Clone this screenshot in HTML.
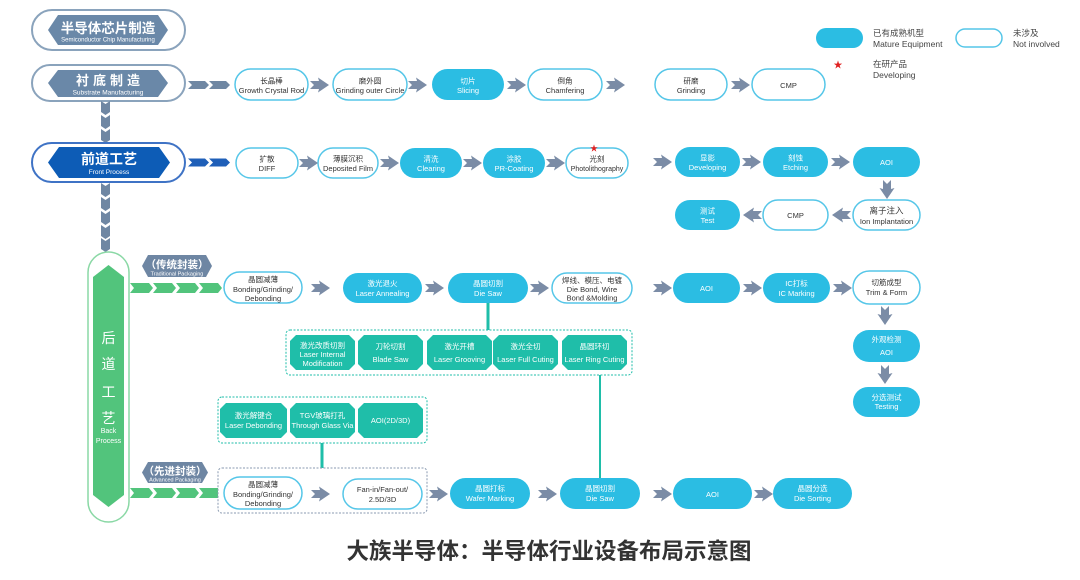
<!DOCTYPE html>
<html><head><meta charset="utf-8"><style>
html,body{margin:0;padding:0;background:#fff;}
svg{display:block;}
text{font-family:"Liberation Sans","Noto Sans CJK SC",sans-serif;}
.w{fill:#fff;}
.d{fill:#333;}
</style></head><body>
<svg width="1080" height="580" viewBox="0 0 1080 580" xmlns="http://www.w3.org/2000/svg">
<defs>
<path id="ra" d="M0,-4 L9,-4 L8,-7.5 L19,0 L8,7.5 L9,4 L0,4 L4,0 Z" fill="#7b8ca6"/>
<path id="ch" d="M0,-4 L17,-4 L21,0 L17,4 L0,4 L4,0 Z"/>
<path id="chg" d="M0,-5 L19,-5 L23,0 L19,5 L0,5 L4,0 Z"/>
<path id="vd" d="M-4.5,0 L0,3 L4.5,0 L4.5,11 L0,14 L-4.5,11 Z" fill="#6f87a3"/>
</defs>

<!-- Header 1 -->
<rect x="32" y="10" width="153" height="40" rx="20" fill="#fff" stroke="#8aa3bc" stroke-width="2"/>
<polygon points="48,30 58,15 158,15 168,30 158,45 58,45" fill="#6a88a8"/>
<text x="108" y="33" font-size="13.5" font-weight="bold" text-anchor="middle" class="w">半导体芯片制造</text>
<text x="108" y="41.5" font-size="6" text-anchor="middle" class="w">Semiconductor Chip Manufacturing</text>

<!-- Header 2 -->
<rect x="32" y="65" width="153" height="36" rx="18" fill="#fff" stroke="#8aa3bc" stroke-width="2"/>
<polygon points="48,83 58,70 158,70 168,83 158,97 58,97" fill="#6a88a8"/>
<text x="110" y="85" font-size="13" font-weight="bold" text-anchor="middle" class="w" letter-spacing="4">衬底制造</text>
<text x="108" y="94.5" font-size="6.5" text-anchor="middle" class="w">Substrate Manufacturing</text>

<!-- substrate chevrons -->
<use href="#ch" x="188" y="85" fill="#6f87a3"/>
<use href="#ch" x="209" y="85" fill="#6f87a3"/>

<!-- vertical gray connectors -->
<use href="#vd" x="105.5" y="101"/>
<use href="#vd" x="105.5" y="115"/>
<use href="#vd" x="105.5" y="129"/>
<use href="#vd" x="105.5" y="183"/>
<use href="#vd" x="105.5" y="197"/>
<use href="#vd" x="105.5" y="211"/>
<use href="#vd" x="105.5" y="225"/>
<use href="#vd" x="105.5" y="238"/>

<!-- Legend -->
<rect x="816" y="28" width="47" height="20" rx="10" fill="#2bbde3"/>
<text x="873" y="36" font-size="8.5" fill="#444">已有成熟机型</text>
<text x="873" y="47" font-size="8.5" fill="#444">Mature Equipment</text>
<rect x="956" y="29" width="46" height="18" rx="9" fill="#fff" stroke="#55c6e8" stroke-width="1.5"/>
<text x="1013" y="36" font-size="8.5" fill="#444">未涉及</text>
<text x="1013" y="47" font-size="8.5" fill="#444">Not involved</text>
<text x="838" y="68" font-size="9" text-anchor="middle" fill="#e02020">★</text>
<text x="873" y="67" font-size="8.5" fill="#444">在研产品</text>
<text x="873" y="78" font-size="8.5" fill="#444">Developing</text>

<!-- Substrate row -->
<g font-size="7.5" text-anchor="middle">
<rect x="235" y="69" width="73" height="31" rx="15.5" fill="#fff" stroke="#55c6e8" stroke-width="1.5"/>
<text x="271.5" y="83.5" class="d">长晶棒</text><text x="271.5" y="93" class="d">Growth Crystal Rod</text>
<rect x="333" y="69" width="74" height="31" rx="15.5" fill="#fff" stroke="#55c6e8" stroke-width="1.5"/>
<text x="370" y="83.5" class="d">磨外圆</text><text x="370" y="93" class="d">Grinding outer Circle</text>
<rect x="432" y="69" width="72" height="31" rx="15.5" fill="#2bbde3"/>
<text x="468" y="83.5" class="w">切片</text><text x="468" y="93" class="w">Slicing</text>
<rect x="528" y="69" width="74" height="31" rx="15.5" fill="#fff" stroke="#55c6e8" stroke-width="1.5"/>
<text x="565" y="83.5" class="d">倒角</text><text x="565" y="93" class="d">Chamfering</text>
<rect x="655" y="69" width="72" height="31" rx="15.5" fill="#fff" stroke="#55c6e8" stroke-width="1.5"/>
<text x="691" y="83.5" class="d">研磨</text><text x="691" y="93" class="d">Grinding</text>
<rect x="752" y="69" width="73" height="31" rx="15.5" fill="#fff" stroke="#55c6e8" stroke-width="1.5"/>
<text x="788.5" y="88" class="d">CMP</text>
</g>
<use href="#ra" x="310" y="85"/>
<use href="#ra" x="408" y="85"/>
<use href="#ra" x="507" y="85"/>
<use href="#ra" x="606" y="85"/>
<use href="#ra" x="731" y="85"/>

<!-- Front process header -->
<rect x="32" y="143" width="153" height="39" rx="19.5" fill="#fff" stroke="#3f73c5" stroke-width="2"/>
<polygon points="48,162.5 59,147 159,147 170,162.5 159,178 59,178" fill="#0d5cb6"/>
<text x="109" y="164" font-size="14" font-weight="bold" text-anchor="middle" class="w">前道工艺</text>
<text x="109" y="174" font-size="6.5" text-anchor="middle" class="w">Front Process</text>
<use href="#ch" x="188" y="162.5" fill="#1f5fb8"/>
<use href="#ch" x="209" y="162.5" fill="#1f5fb8"/>

<!-- Front row -->
<g font-size="7.5" text-anchor="middle">
<rect x="236" y="148" width="62" height="30" rx="15" fill="#fff" stroke="#55c6e8" stroke-width="1.5"/>
<text x="267" y="161.5" class="d">扩散</text><text x="267" y="171" class="d">DIFF</text>
<rect x="318" y="148" width="60" height="30" rx="15" fill="#fff" stroke="#55c6e8" stroke-width="1.5"/>
<text x="348" y="161.5" class="d">薄膜沉积</text><text x="348" y="171" class="d">Deposited Film</text>
<rect x="400" y="148" width="62" height="30" rx="15" fill="#2bbde3"/>
<text x="431" y="161.5" class="w">清洗</text><text x="431" y="171" class="w">Clearing</text>
<rect x="483" y="148" width="62" height="30" rx="15" fill="#2bbde3"/>
<text x="514" y="161.5" class="w">涂胶</text><text x="514" y="171" class="w">PR-Coating</text>
<rect x="566" y="148" width="62" height="30" rx="15" fill="#fff" stroke="#55c6e8" stroke-width="1.5"/>
<text x="597" y="161.5" class="d">光刻</text><text x="597" y="171" class="d" font-size="7">Photolithography</text>
<text x="594" y="151" font-size="8" fill="#e02020">★</text>

<rect x="675" y="147" width="65" height="30" rx="15" fill="#2bbde3"/>
<text x="707.5" y="160.5" class="w">显影</text><text x="707.5" y="170" class="w">Developing</text>
<rect x="763" y="147" width="65" height="30" rx="15" fill="#2bbde3"/>
<text x="795.5" y="160.5" class="w">刻蚀</text><text x="795.5" y="170" class="w">Etching</text>
<rect x="853" y="147" width="67" height="30" rx="15" fill="#2bbde3"/>
<text x="886.5" y="165" class="w">AOI</text>

<rect x="675" y="200" width="65" height="30" rx="15" fill="#2bbde3"/>
<text x="707.5" y="213.5" class="w">测试</text><text x="707.5" y="223" class="w">Test</text>
<rect x="763" y="200" width="65" height="30" rx="15" fill="#fff" stroke="#55c6e8" stroke-width="1.5"/>
<text x="795.5" y="218" class="d">CMP</text>
<rect x="853" y="200" width="67" height="30" rx="15" fill="#fff" stroke="#55c6e8" stroke-width="1.5"/>
<text x="886.5" y="213.5" class="d" font-size="8.5">离子注入</text><text x="886.5" y="224" class="d">Ion Implantation</text>
</g>
<use href="#ra" x="299" y="163"/>
<use href="#ra" x="380" y="163"/>
<use href="#ra" x="463" y="163"/>
<use href="#ra" x="546" y="163"/>
<use href="#ra" x="653" y="162"/>
<use href="#ra" x="742" y="162"/>
<use href="#ra" x="831" y="162"/>
<use href="#ra" transform="translate(887,180) rotate(90)"/>
<use href="#ra" transform="translate(851,215) rotate(180)"/>
<use href="#ra" transform="translate(762,215) rotate(180)"/>

<!-- Back process -->
<rect x="88" y="252" width="41" height="270" rx="20.5" fill="#fff" stroke="#8ad8a5" stroke-width="1.5"/>
<polygon points="93,277 108.5,265 124,277 124,495 108.5,507 93,495" fill="#52c47c"/>
<g text-anchor="middle" class="w">
<text x="108.5" y="343" font-size="14">后</text>
<text x="108.5" y="369" font-size="14">道</text>
<text x="108.5" y="397" font-size="14">工</text>
<text x="108.5" y="423" font-size="14">艺</text>
<text x="108.5" y="433" font-size="7">Back</text>
<text x="108.5" y="443" font-size="7">Process</text>
</g>

<!-- Traditional label -->
<polygon points="142,266 148,255 206,255 212,266 206,277 148,277" fill="#6e86a3"/>
<text x="177" y="268" font-size="10.5" font-weight="bold" text-anchor="middle" class="w">（传统封装）</text>
<text x="177" y="275.5" font-size="5.5" text-anchor="middle" class="w">Traditional Packaging</text>
<g fill="#52c47c">
<use href="#chg" x="130" y="288"/><use href="#chg" x="153" y="288"/><use href="#chg" x="176" y="288"/><use href="#chg" x="199" y="288"/>
</g>

<!-- Traditional row -->
<g font-size="7.5" text-anchor="middle">
<rect x="224" y="272" width="78" height="31" rx="15.5" fill="#fff" stroke="#55c6e8" stroke-width="1.5"/>
<text x="263" y="282" class="d">晶圆减薄</text><text x="263" y="292" class="d">Bonding/Grinding/</text><text x="263" y="301" class="d">Debonding</text>
<rect x="343" y="273" width="79" height="30" rx="15" fill="#2bbde3"/>
<text x="382.5" y="286" class="w">激光退火</text><text x="382.5" y="296" class="w">Laser Annealing</text>
<rect x="448" y="273" width="80" height="30" rx="15" fill="#2bbde3"/>
<text x="488" y="286" class="w">晶圆切割</text><text x="488" y="296" class="w">Die Saw</text>
<rect x="552" y="273" width="80" height="30" rx="15" fill="#fff" stroke="#55c6e8" stroke-width="1.5"/>
<text x="592" y="283" class="d">焊线、模压、电镀</text><text x="592" y="292" class="d">Die Bond, Wire</text><text x="592" y="300.5" class="d">Bond &amp;Molding</text>
<rect x="673" y="273" width="67" height="30" rx="15" fill="#2bbde3"/>
<text x="706.5" y="291" class="w">AOI</text>
<rect x="763" y="273" width="67" height="30" rx="15" fill="#2bbde3"/>
<text x="796.5" y="286" class="w">IC打标</text><text x="796.5" y="296" class="w">IC Marking</text>
<rect x="853" y="271" width="67" height="33" rx="16.5" fill="#fff" stroke="#55c6e8" stroke-width="1.5"/>
<text x="886.5" y="285" class="d">切筋成型</text><text x="886.5" y="295" class="d">Trim &amp; Form</text>

<rect x="853" y="330" width="67" height="32" rx="16" fill="#2bbde3"/>
<text x="886.5" y="342" class="w">外观检测</text><text x="886.5" y="355" class="w">AOI</text>
<rect x="853" y="387" width="67" height="30" rx="15" fill="#2bbde3"/>
<text x="886.5" y="400" class="w">分选测试</text><text x="886.5" y="409" class="w">Testing</text>
</g>
<use href="#ra" x="311" y="288"/>
<use href="#ra" x="425" y="288"/>
<use href="#ra" x="530" y="288"/>
<use href="#ra" x="653" y="288"/>
<use href="#ra" x="743" y="288"/>
<use href="#ra" x="833" y="288"/>
<use href="#ra" transform="translate(885,306) rotate(90)"/>
<use href="#ra" transform="translate(885,365) rotate(90)"/>

<!-- Teal connectors -->
<line x1="488" y1="303" x2="488" y2="330" stroke="#1fbea9" stroke-width="3"/>
<line x1="600" y1="375" x2="600" y2="478" stroke="#1fbea9" stroke-width="2"/>
<line x1="322" y1="443" x2="322" y2="468" stroke="#1fbea9" stroke-width="3"/>

<!-- Cutting sub-box -->
<rect x="286" y="330" width="346" height="45" rx="4" fill="#fff" stroke="#1fbea9" stroke-width="1" stroke-dasharray="2,1.5"/>
<g fill="#1fbea9">
<polygon points="296,335 349,335 355,341 355,364 349,370 296,370 290,364 290,341"/>
<polygon points="364,335 417,335 423,341 423,364 417,370 364,370 358,364 358,341"/>
<polygon points="433,335 486,335 492,341 492,364 486,370 433,370 427,364 427,341"/>
<polygon points="499,335 552,335 558,341 558,364 552,370 499,370 493,364 493,341"/>
<polygon points="568,335 621,335 627,341 627,364 621,370 568,370 562,364 562,341"/>
</g>
<g font-size="7.5" text-anchor="middle" class="w">
<text x="322.5" y="348">激光改质切割</text><text x="322.5" y="357">Laser Internal</text><text x="322.5" y="366">Modification</text>
<text x="390.5" y="349">刀轮切割</text><text x="390.5" y="362">Blade Saw</text>
<text x="459.5" y="349">激光开槽</text><text x="459.5" y="362">Laser Grooving</text>
<text x="525.5" y="349">激光全切</text><text x="525.5" y="362">Laser Full Cuting</text>
<text x="594.5" y="349">晶圆环切</text><text x="594.5" y="362">Laser Ring Cuting</text>
</g>

<!-- Advanced top box -->
<rect x="218" y="397" width="209" height="46" rx="4" fill="#fff" stroke="#1fbea9" stroke-width="1" stroke-dasharray="2,1.5"/>
<g fill="#1fbea9">
<polygon points="226,403 281,403 287,409 287,432 281,438 226,438 220,432 220,409"/>
<polygon points="296,403 349,403 355,409 355,432 349,438 296,438 290,432 290,409"/>
<polygon points="364,403 417,403 423,409 423,432 417,438 364,438 358,432 358,409"/>
</g>
<g font-size="7.5" text-anchor="middle" class="w">
<text x="253.5" y="418">激光解键合</text><text x="253.5" y="428">Laser Debonding</text>
<text x="322.5" y="418">TGV玻璃打孔</text><text x="322.5" y="428">Through Glass Via</text>
<text x="390.5" y="423">AOI(2D/3D)</text>
</g>

<!-- Advanced label -->
<polygon points="142,472.5 148,462 202,462 208,472.5 202,483 148,483" fill="#6e86a3"/>
<text x="175" y="474.5" font-size="10.5" font-weight="bold" text-anchor="middle" class="w">（先进封装）</text>
<text x="175" y="481.5" font-size="5.5" text-anchor="middle" class="w">Advanced Packaging</text>
<g fill="#52c47c">
<use href="#chg" x="130" y="493"/><use href="#chg" x="153" y="493"/><use href="#chg" x="176" y="493"/><use href="#chg" x="199" y="493"/>
</g>

<!-- Advanced bottom box -->
<rect x="218" y="468" width="209" height="45" rx="4" fill="#fff" stroke="#8a9ab0" stroke-width="1" stroke-dasharray="2,1.5"/>
<g font-size="7.5" text-anchor="middle">
<rect x="224" y="477" width="78" height="32" rx="16" fill="#fff" stroke="#55c6e8" stroke-width="1.5"/>
<text x="263" y="487" class="d">晶圆减薄</text><text x="263" y="497" class="d">Bonding/Grinding/</text><text x="263" y="506" class="d">Debonding</text>
<rect x="343" y="479" width="79" height="30" rx="15" fill="#fff" stroke="#55c6e8" stroke-width="1.5"/>
<text x="382.5" y="492" class="d">Fan-in/Fan-out/</text><text x="382.5" y="502" class="d">2.5D/3D</text>

<rect x="450" y="478" width="80" height="31" rx="15.5" fill="#2bbde3"/>
<text x="490" y="491" class="w">晶圆打标</text><text x="490" y="501" class="w">Wafer Marking</text>
<rect x="560" y="478" width="80" height="31" rx="15.5" fill="#2bbde3"/>
<text x="600" y="491" class="w">晶圆切割</text><text x="600" y="501" class="w">Die Saw</text>
<rect x="673" y="478" width="79" height="31" rx="15.5" fill="#2bbde3"/>
<text x="712.5" y="497" class="w">AOI</text>
<rect x="773" y="478" width="79" height="31" rx="15.5" fill="#2bbde3"/>
<text x="812.5" y="491" class="w">晶圆分选</text><text x="812.5" y="501" class="w">Die Sorting</text>
</g>
<use href="#ra" x="311" y="494"/>
<use href="#ra" x="429" y="494"/>
<use href="#ra" x="538" y="494"/>
<use href="#ra" x="653" y="494"/>
<use href="#ra" x="754" y="494"/>

<!-- Title -->
<text x="549" y="559" font-size="22.5" font-weight="bold" text-anchor="middle" fill="#333">大族半导体：半导体行业设备布局示意图</text>
</svg>
</body></html>
